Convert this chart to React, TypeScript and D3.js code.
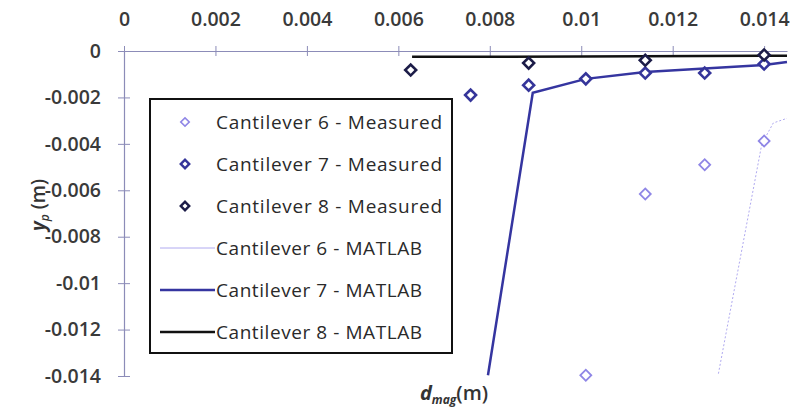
import React, { useRef, useEffect } from "react";
import * as d3 from "d3";

// measured points [d_mag, y_p]
const cant6Measured: [number, number][] = [
  [0.0101, -0.01397],
  [0.0114, -0.00616],
  [0.0127, -0.0049],
  [0.014, -0.00388],
];
const cant7Measured: [number, number][] = [
  [0.00758, -0.0019],
  [0.00885, -0.00147],
  [0.0101, -0.0012],
  [0.0114, -0.00095],
  [0.0127, -0.00095],
  [0.014, -0.00056],
];
const cant8Measured: [number, number][] = [
  [0.00627, -0.00082],
  [0.00885, -0.00052],
  [0.0114, -0.0004],
  [0.014, -0.00017],
];
// MATLAB curves
const cant6Matlab: [number, number][] = [
  [0.013, -0.0139],
  [0.01395, -0.004],
  [0.0142, -0.0031],
  [0.0145, -0.0029],
];
const cant7Matlab: [number, number][] = [
  [0.00796, -0.01397],
  [0.00894, -0.0018],
  [0.0101, -0.0012],
  [0.0114, -0.0009],
  [0.014, -0.0006],
  [0.0145, -0.00047],
];
const cant8Matlab: [number, number][] = [
  [0.0063, -0.00025],
  [0.01, -0.00024],
  [0.014, -0.0002],
  [0.0145, -0.0002],
];

const xTicks = [0, 0.002, 0.004, 0.006, 0.008, 0.01, 0.012, 0.014];
const yTicks = [0, -0.002, -0.004, -0.006, -0.008, -0.01, -0.012, -0.014];

const legendItems = [
  { label: "Cantilever 6 - Measured", kind: "marker", color: "#8f86e6", width: 1.6 },
  { label: "Cantilever 7 - Measured", kind: "marker", color: "#35359a", width: 2.4 },
  { label: "Cantilever 8 - Measured", kind: "marker", color: "#1c1c48", width: 2.4 },
  { label: "Cantilever 6 - MATLAB", kind: "line", color: "#b0aaf0", width: 1 },
  { label: "Cantilever 7 - MATLAB", kind: "line", color: "#3535a0", width: 2.5 },
  { label: "Cantilever 8 - MATLAB", kind: "line", color: "#111111", width: 2.5 },
];

const font = "'Open Sans', 'Liberation Sans', sans-serif";

const App = () => {
  const plotRef = useRef<SVGGElement>(null);

  useEffect(() => {
    const svg = d3.select(plotRef.current);
    svg.selectAll("*").remove();

    const x = d3.scaleLinear().domain([0, 0.0145]).range([124, 787]);
    const y = d3.scaleLinear().domain([0, -0.014]).range([51, 376]);
    const axisColor = "#8c8cb8";

    // top axis (at y = 0)
    const xAxis = d3
      .axisTop(x)
      .tickValues(xTicks)
      .tickSize(0)
      .tickFormat((d) => String(d));
    const gx = svg.append("g").attr("transform", `translate(0,${y(0)})`).call(xAxis);
    gx.select(".domain").attr("stroke", axisColor).attr("stroke-width", 1.2);
    gx.selectAll(".tick text")
      .attr("y", -25)
      .attr("fill", "#3a3a3a")
      .style("font-family", font)
      .style("font-size", "19.5px")
      .style("font-weight", "600");
    gx.selectAll(".tick")
      .append("line")
      .attr("y1", -5)
      .attr("y2", 5)
      .attr("stroke", axisColor);

    // left axis
    const yAxis = d3
      .axisLeft(y)
      .tickValues(yTicks)
      .tickSize(0)
      .tickFormat((d) => String(d));
    const gy = svg.append("g").attr("transform", `translate(${x(0)},0)`).call(yAxis);
    gy.select(".domain").attr("stroke", axisColor).attr("stroke-width", 1.2);
    gy.selectAll(".tick text")
      .attr("x", -23)
      .attr("fill", "#3a3a3a")
      .style("font-family", font)
      .style("font-size", "19.5px")
      .style("font-weight", "600");
    gy.selectAll(".tick")
      .append("line")
      .attr("x1", -6)
      .attr("x2", 6)
      .attr("stroke", axisColor);

    const line = d3
      .line<[number, number]>()
      .x((d) => x(d[0]))
      .y((d) => y(d[1]));

    // MATLAB lines
    svg.append("path")
      .attr("d", line(cant6Matlab))
      .attr("fill", "none")
      .attr("stroke", "#b0aaf0")
      .attr("stroke-width", 1)
      .attr("stroke-dasharray", "2,2");
    svg.append("path")
      .attr("d", line(cant7Matlab))
      .attr("fill", "none")
      .attr("stroke", "#3535a0")
      .attr("stroke-width", 2.5);
    svg.append("path")
      .attr("d", line(cant8Matlab))
      .attr("fill", "none")
      .attr("stroke", "#111")
      .attr("stroke-width", 2.5);

    const diamond = d3.symbol().type(d3.symbolSquare).size(60);
    const drawMarkers = (data: [number, number][], color: string, w: number) => {
      svg.append("g")
        .selectAll("path")
        .data(data)
        .join("path")
        .attr("d", diamond())
        .attr("transform", (d) => `translate(${x(d[0])},${y(d[1])}) rotate(45)`)
        .attr("fill", "white")
        .attr("stroke", color)
        .attr("stroke-width", w);
    };
    drawMarkers(cant6Measured, "#8f86e6", 1.8);
    drawMarkers(cant7Measured, "#35359a", 2.6);
    drawMarkers(cant8Measured, "#1c1c48", 2.6);

    // legend
    const lg = svg.append("g");
    lg.append("rect")
      .attr("x", 150)
      .attr("y", 99)
      .attr("width", 302)
      .attr("height", 254)
      .attr("fill", "white")
      .attr("stroke", "#111")
      .attr("stroke-width", 2);
    legendItems.forEach((item, i) => {
      const cy = 122 + i * 42;
      if (item.kind === "marker") {
        lg.append("path")
          .attr("d", d3.symbol().type(d3.symbolSquare).size(36)())
          .attr("transform", `translate(185,${cy}) rotate(45)`)
          .attr("fill", "white")
          .attr("stroke", item.color)
          .attr("stroke-width", item.width);
      } else {
        lg.append("line")
          .attr("x1", 160)
          .attr("x2", 215)
          .attr("y1", cy)
          .attr("y2", cy)
          .attr("stroke", item.color)
          .attr("stroke-width", item.width);
      }
      lg.append("text")
        .attr("x", 216)
        .attr("y", cy)
        .attr("dy", "0.35em")
        .attr("fill", "#2a2a2a")
        .attr("textLength", item.kind === "marker" ? 226 : 206)
        .style("font-family", font)
        .style("font-size", "19px")
        .text(item.label);
    });
  }, []);

  return (
    <svg
      width={791}
      height={412}
      style={{ position: "absolute", left: 0, top: 0, background: "white" }}
    >
      <g ref={plotRef} />
      <text
        transform="translate(45,205) rotate(-90)"
        textAnchor="middle"
        fill="#333"
        style={{ fontFamily: font, fontSize: 19, fontWeight: 600 }}
      >
        <tspan fontStyle="italic" fontWeight="700">y</tspan>
        <tspan fontStyle="italic" fontSize="12" dy="4">p</tspan>
        <tspan dy="-4">{"\u00a0(m)"}</tspan>
      </text>
      <text
        x={454}
        y={400}
        textAnchor="middle"
        fill="#333"
        style={{ fontFamily: font, fontSize: 20, fontWeight: 700 }}
      >
        <tspan fontStyle="italic">d</tspan>
        <tspan fontStyle="italic" fontSize="12" dy="4">mag</tspan>
        <tspan dy="-4" fontWeight="600">(m)</tspan>
      </text>
    </svg>
  );
};

export default App;
